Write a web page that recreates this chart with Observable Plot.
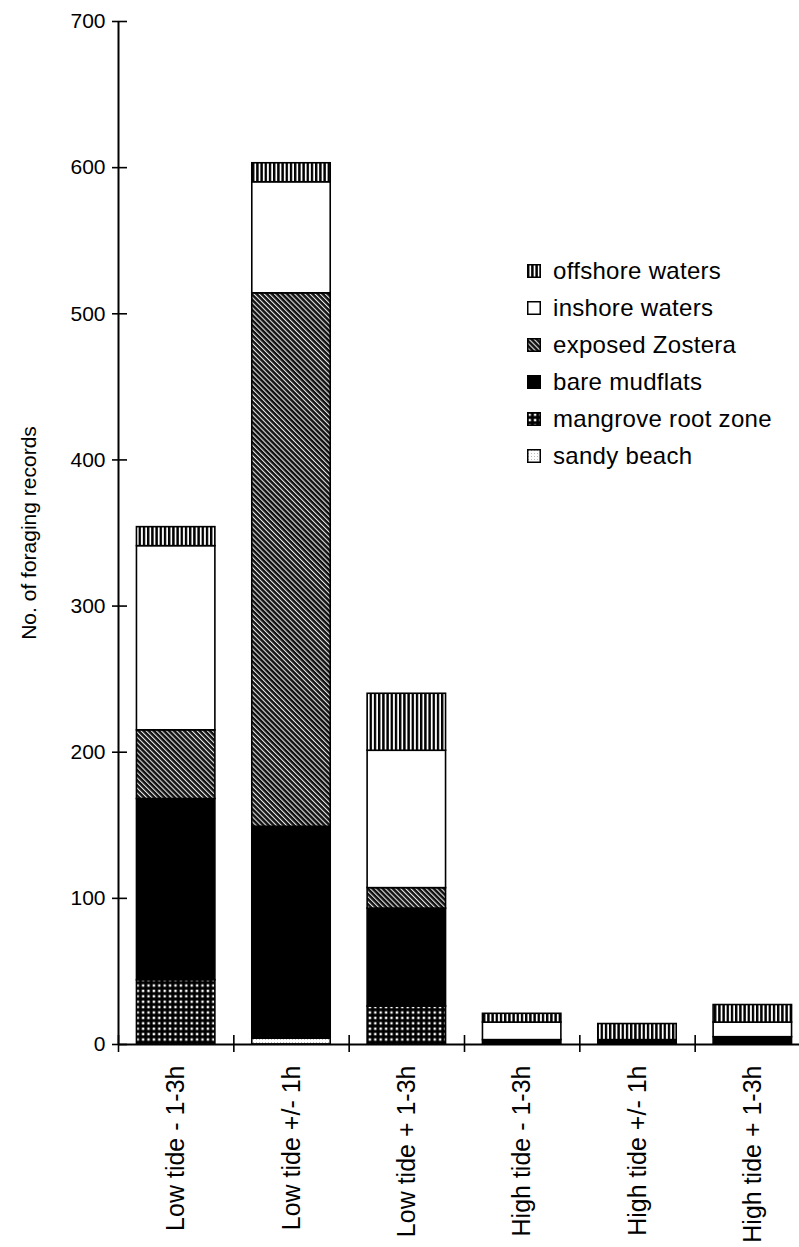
<!DOCTYPE html>
<html>
<head>
<meta charset="utf-8">
<script src="https://cdn.jsdelivr.net/npm/d3@7"></script>
<script src="https://cdn.jsdelivr.net/npm/@observablehq/plot@0.6"></script>
<style>
  body { margin: 0; background: #fff; font-family: "Liberation Sans", Arial, sans-serif; }
  #wrap { position: relative; width: 799px; height: 1247px; overflow: hidden; }
  #legend { position: absolute; left: 527px; top: 252px; font-size: 24px; letter-spacing: 0.3px; color: #000; }
  #legend .row { display: flex; align-items: center; height: 37px; white-space: nowrap; }
  #legend svg { margin-right: 12px; }
</style>
</head>
<body>
<svg width="0" height="0" style="position:absolute">
  <defs>
    <pattern id="p-offshore" width="4.2" height="10" patternUnits="userSpaceOnUse">
      <rect width="4.2" height="10" fill="#fff"/>
      <rect width="2.4" height="10" fill="#000"/>
    </pattern>
    <pattern id="p-zostera" width="3.6" height="3.6" patternUnits="userSpaceOnUse" patternTransform="rotate(-45)">
      <rect width="3.6" height="3.6" fill="#111"/>
      <rect x="0" width="1.1" height="3.6" fill="#e8e8e8"/>
    </pattern>
    <pattern id="p-mangrove" width="5.4" height="5.4" patternUnits="userSpaceOnUse">
      <rect width="5.4" height="5.4" fill="#000"/>
      <rect x="1.5" y="1.5" width="2.4" height="2.4" fill="#fff"/>
    </pattern>
    <pattern id="p-sandy" width="3" height="3" patternUnits="userSpaceOnUse">
      <rect width="3" height="3" fill="#fff"/>
      <rect x="1" y="1" width="1" height="1" fill="#bbb"/>
    </pattern>
  </defs>
</svg>
<div id="wrap">
  <div id="chart"></div>
  <div id="legend"></div>
</div>
<script>
// ---- data ----
const categories = ["Low tide - 1-3h", "Low tide +/- 1h", "Low tide + 1-3h", "High tide - 1-3h", "High tide +/- 1h", "High tide + 1-3h"];
const habitats = ["sandy beach", "mangrove root zone", "bare mudflats", "exposed Zostera", "inshore waters", "offshore waters"];
const sandyBeach = [0, 4, 0, 0, 0, 0];
const mangroveRootZone = [44, 0, 26, 0, 0, 0];
const bareMudflats = [124, 145, 67, 3, 3, 5];
const exposedZostera = [47, 365, 14, 0, 0, 0];
const inshoreWaters = [126, 76, 94, 12, 0, 10];
const offshoreWaters = [13, 13, 39, 6, 11, 12];
const yTicks = [0, 100, 200, 300, 400, 500, 600, 700];
const legendOrder = ["offshore waters", "inshore waters", "exposed Zostera", "bare mudflats", "mangrove root zone", "sandy beach"];

// ---- styles ----
const fills = {
  "sandy beach": "url(#p-sandy)",
  "mangrove root zone": "url(#p-mangrove)",
  "bare mudflats": "#000",
  "exposed Zostera": "url(#p-zostera)",
  "inshore waters": "#fff",
  "offshore waters": "url(#p-offshore)"
};
const series = [sandyBeach, mangroveRootZone, bareMudflats, exposedZostera, inshoreWaters, offshoreWaters];

// build stacked table
const rows = [];
categories.forEach((c, i) => {
  let base = 0;
  habitats.forEach((h, k) => {
    const v = series[k][i];
    if (v > 0) rows.push({i, category: c, habitat: h, y1: base, y2: base + v});
    base += v;
  });
});

const pad = 0.16;
const font = "Liberation Sans, Arial, sans-serif";

const marks = [];
habitats.forEach(h => {
  marks.push(Plot.rectY(rows.filter(r => r.habitat === h), {
    x1: d => d.i + pad, x2: d => d.i + 1 - pad, y1: "y1", y2: "y2",
    fill: fills[h], stroke: "#000", strokeWidth: 1.6
  }));
});
marks.push(
  Plot.ruleY([0], {stroke: "#000", strokeWidth: 2}),
  Plot.ruleX([0], {stroke: "#000", strokeWidth: 2}),
  // y ticks crossing the axis
  Plot.axisY({ticks: yTicks, tickSize: 15, dx: 9, tickFormat: () => "", label: null, strokeWidth: 1.6}),
  Plot.axisY({ticks: yTicks, tickSize: 0, tickPadding: 13, tickFormat: d => d, label: null, fontSize: 21}),
  Plot.axisY({ticks: [], label: "No. of foraging records", labelAnchor: "center", labelArrow: "none", labelOffset: 97, fontSize: 21}),
  // x ticks crossing the axis
  Plot.axisX({ticks: d3.range(0, categories.length + 1), tickSize: 17, dy: -9, tickFormat: () => "", label: null, strokeWidth: 1.6}),
  Plot.text(categories, {
    x: (d, i) => i + 0.5, text: d => d, frameAnchor: "bottom",
    rotate: -90, textAnchor: "end", lineAnchor: "middle", dy: 21, fontSize: 25, fill: "#000"
  })
);

const chart = Plot.plot({
  width: 799,
  height: 1247,
  marginTop: 21,
  marginBottom: 203,
  marginLeft: 118,
  marginRight: 0,
  style: {fontFamily: font, color: "#000", background: "#fff", overflow: "visible"},
  x: {domain: [0, 6], range: [118, 810], axis: null},
  y: {domain: [0, 700], axis: null},
  marks
});
document.getElementById("chart").appendChild(chart);

// legend
const legend = d3.select("#legend");
legendOrder.forEach(h => {
  const row = legend.append("div").attr("class", "row");
  const sw = row.append("svg").attr("width", 14).attr("height", 14);
  sw.append("rect").attr("x", 0.75).attr("y", 0.75).attr("width", 12.5).attr("height", 12.5)
    .attr("fill", fills[h]).attr("stroke", "#000").attr("stroke-width", 1.5);
  row.append("span").text(h);
});
</script>
</body>
</html>
